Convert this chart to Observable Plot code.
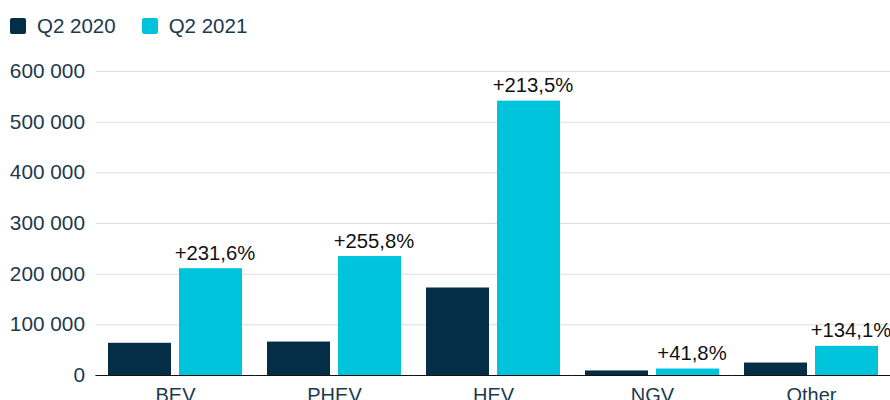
<!DOCTYPE html>
<html>
<head>
<meta charset="utf-8">
<script src="https://cdn.jsdelivr.net/npm/d3@7"></script>
<script src="https://cdn.jsdelivr.net/npm/@observablehq/plot@0.6"></script>
<style>
  html, body { margin: 0; padding: 0; background: #fff; overflow: hidden; }
  body { width: 890px; height: 400px; font-family: "Liberation Sans", Arial, sans-serif; }
  #legend { height: 46px; display: flex; align-items: center; padding-left: 10px; padding-top: 6px; box-sizing: border-box; font-size: 20.5px; color: #1b3a4f; }
  .item { display: flex; align-items: center; margin-right: 26px; }
  .sw { width: 16px; height: 16px; border-radius: 2px; margin-right: 11px; }
</style>
</head>
<body>
<div id="legend"></div>
<div id="chart"></div>
<script>
const categories = ["BEV", "PHEV", "HEV", "NGV", "Other"];
const series = ["Q2 2020", "Q2 2021"];
const values2020 = [63600, 66000, 172700, 9000, 24600];
const values2021 = [210800, 234800, 541500, 12800, 57500];
const changeLabels = ["+231,6%", "+255,8%", "+213,5%", "+41,8%", "+134,1%"];
const yTicks = [0, 100000, 200000, 300000, 400000, 500000, 600000];
const colors = ["#042e45", "#00c4dc"];

const data = categories.flatMap((c, i) => [
  {category: c, series: series[0], value: values2020[i]},
  {category: c, series: series[1], value: values2021[i]}
]);
const labelData = categories.map((c, i) => ({category: c, series: series[1], value: values2021[i], label: changeLabels[i]}));
const fmt = d => d3.format(",")(d).replace(/,/g, " ");

const legend = document.getElementById("legend");
series.forEach((s, i) => {
  const it = document.createElement("div");
  it.className = "item";
  it.innerHTML = `<span class="sw" style="background:${colors[i]}"></span><span>${s}</span>`;
  legend.appendChild(it);
});

const gapHalf = -11.6; // extend per-facet rules across the gap between groups
const chart = Plot.plot({
  width: 890,
  height: 369,
  marginLeft: 95,
  marginRight: 0,
  marginTop: 25,
  marginBottom: 40,
  style: {fontFamily: "'Liberation Sans', Arial, sans-serif", fontSize: "20px", color: "#1b3a4f", overflow: "visible", background: "#fff"},
  fx: {domain: categories, paddingInner: 0.145, paddingOuter: 0.0725, label: null, axis: "bottom", tickSize: 0, tickPadding: 12},
  x: {domain: series, paddingInner: 0.111, paddingOuter: 0, axis: null},
  y: {domain: [0, 600000], axis: null},
  color: {domain: series, range: colors},
  marks: [
    Plot.ruleY(yTicks.filter(d => d > 0), {stroke: "#dcdcdc", strokeWidth: 1, insetLeft: gapHalf, insetRight: gapHalf}),
    Plot.barY(data, {fx: "category", x: "series", y: "value", fill: "series"}),
    Plot.ruleY([0], {stroke: "#111", strokeWidth: 1.2, insetLeft: gapHalf, insetRight: gapHalf}),
    Plot.text(yTicks, {fx: () => categories[0], y: d => d, frameAnchor: "left", dx: -22.5, textAnchor: "end", text: fmt, fill: "#1b3a4f", fontSize: 20.8}),
    Plot.text(labelData, {fx: "category", x: "series", y: "value", text: "label", lineAnchor: "bottom", dy: -9, dx: 4, fill: "#111", fontSize: 20.3})
  ]
});
document.getElementById("chart").appendChild(chart);
</script>
</body>
</html>
